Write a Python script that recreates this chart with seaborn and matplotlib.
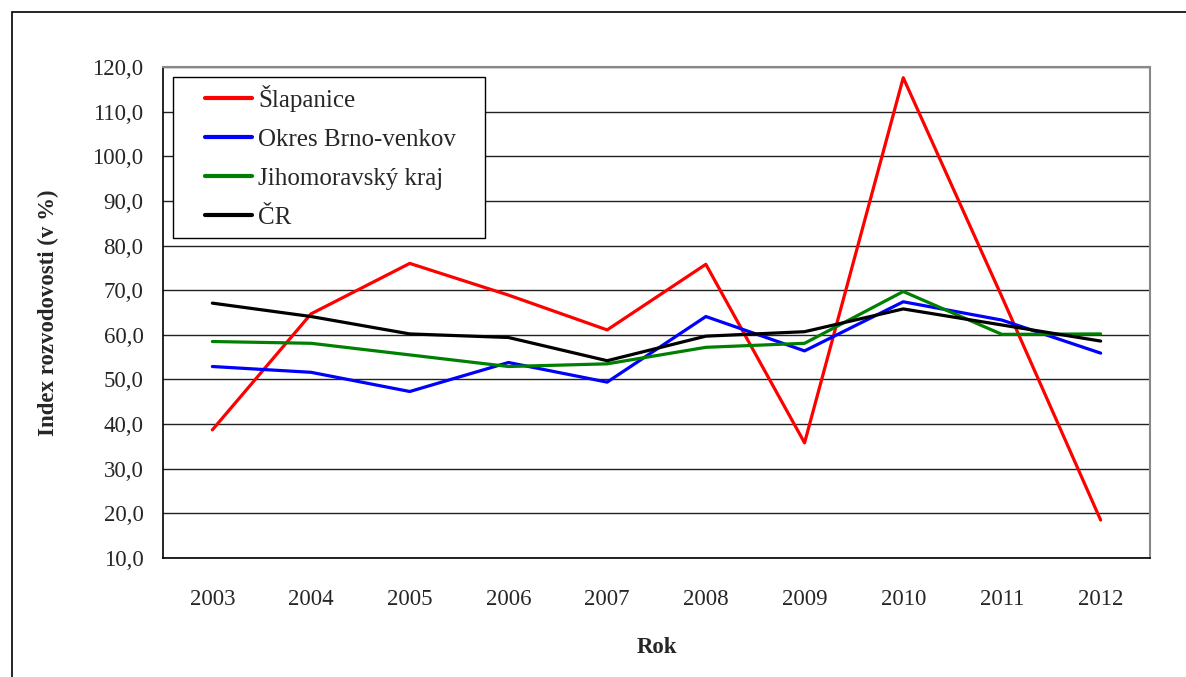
import numpy as np
import pandas as pd
import matplotlib
matplotlib.use("Agg")
import matplotlib.pyplot as plt
from matplotlib.ticker import FuncFormatter, FixedLocator
from matplotlib.patches import Rectangle
import seaborn as sns

# ------------------------------------------------------------
# Data
# ------------------------------------------------------------
years = [2003, 2004, 2005, 2006, 2007, 2008, 2009, 2010, 2011, 2012]
slapanice = [38.7, 64.7, 76.0, 68.9, 61.1, 75.8, 35.8, 117.6, 68.5, 18.5]
brno_venkov = [52.9, 51.6, 47.3, 53.8, 49.4, 64.1, 56.4, 67.4, 63.3, 55.9]
jihomoravsky = [58.5, 58.1, 55.5, 52.9, 53.5, 57.2, 58.1, 69.7, 60.1, 60.2]
cr = [67.1, 64.1, 60.2, 59.4, 54.2, 59.7, 60.7, 65.8, 62.2, 58.6]

series_names = ["Šlapanice", "Okres Brno-venkov", "Jihomoravský kraj", "ČR"]
series_colors = ["#FF0000", "#0000FF", "#008000", "#000000"]

df = pd.DataFrame({
    "idx": list(range(len(years))) * 4,
    "value": slapanice + brno_venkov + jihomoravsky + cr,
    "series": np.repeat(series_names, len(years)),
})

W, H = 1186, 677

# ------------------------------------------------------------
# Plot
# ------------------------------------------------------------
sns.set_style("white")
plt.rcParams["font.family"] = ["Liberation Serif", "DejaVu Serif"]

fig = plt.figure(figsize=(W / 100, H / 100), dpi=100)
ax = fig.add_axes([163 / W, 1 - 558 / H, (1150 - 163) / W, (558 - 67) / H])

# outer chart frame (only top/left visible in reference)
fig.patches.append(Rectangle((12 / W, -0.1), 1.2, 1 - 12 / H + 0.1,
                             transform=fig.transFigure, fill=False,
                             edgecolor="black", lw=1.2))

sns.lineplot(data=df, x="idx", y="value", hue="series",
             hue_order=series_names, palette=series_colors,
             linewidth=2.3, ax=ax, legend=True)

ax.set_xlim(-0.5, len(years) - 0.5)
ax.set_ylim(10, 120)
ax.set_yticks(np.arange(10, 121, 10))
ax.yaxis.set_major_formatter(FuncFormatter(lambda v, _: f"{v:.1f}".replace(".", ",")))
ax.grid(axis="y", color="#222222", lw=1.0)
ax.set_axisbelow(True)

# category ticks between years, labels at centres
ax.xaxis.set_major_locator(FixedLocator(np.arange(-0.5, len(years), 1.0)))
ax.xaxis.set_major_formatter(FuncFormatter(lambda v, _: ""))
ax.xaxis.set_minor_locator(FixedLocator(np.arange(len(years))))
ax.set_xticklabels([str(y) for y in years], minor=True)
ax.tick_params(axis="x", which="major", length=6, width=1, color="black", direction="out")
ax.tick_params(axis="x", which="minor", length=0, pad=22, labelsize=16.5)
ax.tick_params(axis="y", length=6, width=1, color="black", direction="out", labelsize=16.5, pad=8)

for side in ["left", "bottom"]:
    ax.spines[side].set_color("black")
    ax.spines[side].set_linewidth(1.2)
for side in ["top", "right"]:
    ax.spines[side].set_color("#888888")
    ax.spines[side].set_linewidth(1.5)

ax.set_xlabel("Rok", fontsize=16.5, fontweight="bold", labelpad=20)
ax.set_ylabel("Index rozvodovosti (v %)", fontsize=16.5, fontweight="bold", labelpad=24)

# legend: frameless text block + separate box, as in the reference
to_ax = lambda px, py: ((px - 163) / (1150 - 163), (558 - py) / (558 - 67))
leg = ax.legend(loc="upper left", bbox_to_anchor=to_ax(205, 85), borderaxespad=0,
                fontsize=18, frameon=False, handlelength=1.88, handletextpad=0.24,
                labelspacing=0.66, borderpad=0, title=None)
for h in leg.get_lines():
    h.set_linewidth(3.0)
x0, y0 = to_ax(173, 238)
x1, y1 = to_ax(485, 77)
ax.add_patch(Rectangle((x0, y0), x1 - x0, y1 - y0, transform=ax.transAxes,
                       fill=True, facecolor="white", edgecolor="black", lw=1.0, zorder=4))
leg.set_zorder(5)

fig.savefig("out.png", dpi=100)
